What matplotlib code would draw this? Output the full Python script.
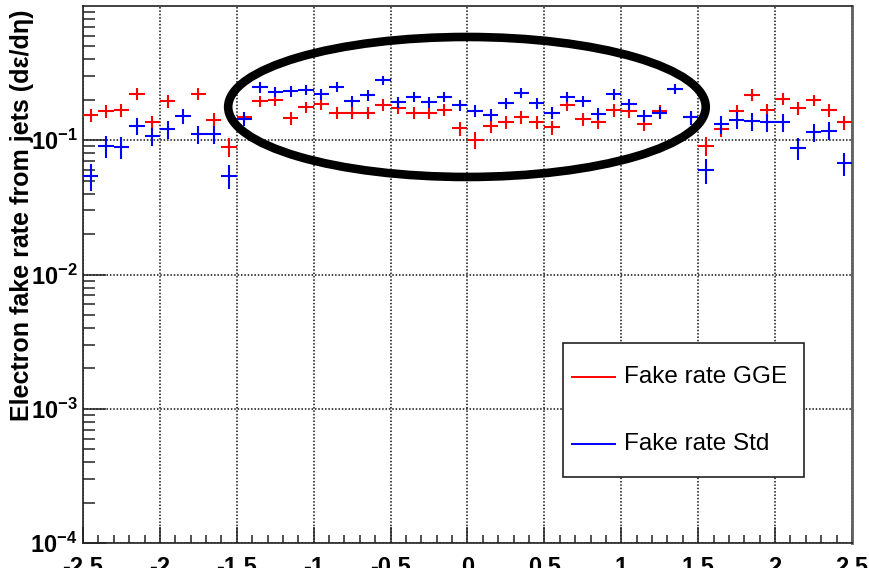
import matplotlib
matplotlib.use("Agg")
import matplotlib.pyplot as plt
import numpy as np
from matplotlib.lines import Line2D
from matplotlib.patches import Ellipse, Rectangle
from matplotlib.ticker import FixedLocator, LogLocator, NullFormatter

plt.rcParams["font.family"] = ["Liberation Sans", "DejaVu Sans"]
plt.rcParams["axes.unicode_minus"] = False

# 50 eta bins of width 0.1 between -2.5 and 2.5
ETA_CENTRES = np.round(np.arange(-2.45, 2.5, 0.1), 2)
ETA_HALF_WIDTH = 0.05

nan = float("nan")
FAKE_GGE = [0.155, 0.166, 0.168, 0.221, 0.136, 0.195, nan, 0.221, 0.142, 0.0896,
            0.148, 0.195, 0.199, 0.147, 0.176, 0.186, 0.161, 0.161, 0.161, 0.183,
            0.173, 0.161, 0.159, 0.168, 0.123, 0.1005, 0.128, 0.136, 0.148, 0.136,
            0.125, 0.183, 0.144, 0.136, 0.168, 0.166, 0.132, 0.164, nan, 0.148,
            0.091, 0.121, 0.164, 0.218, 0.168, 0.203, 0.174, 0.199, 0.168, 0.136]
FAKE_STD = [0.0545, 0.091, 0.0896, 0.128, 0.107, 0.121, 0.152, 0.111, 0.111, 0.0545,
            0.144, 0.248, 0.230, 0.231, 0.237, 0.221, 0.250, 0.195, 0.217, 0.281,
            0.192, 0.211, 0.192, 0.211, 0.182, 0.166, 0.155, 0.188, 0.225, 0.188,
            0.161, 0.211, 0.195, 0.157, 0.221, 0.186, 0.152, 0.161, 0.241, 0.148,
            0.060, 0.132, 0.142, 0.138, 0.136, 0.136, 0.0877, 0.1145, 0.118, 0.0673]

# relative statistical uncertainty per bin
REL_ERR_GGE = [0.11, 0.11, 0.11, 0.10, 0.12, 0.11, 0.11, 0.10, 0.12, 0.16,
               0.10, 0.10, 0.10, 0.11, 0.10, 0.10, 0.10, 0.10, 0.10, 0.10,
               0.10, 0.10, 0.10, 0.10, 0.12, 0.14, 0.11, 0.11, 0.11, 0.11,
               0.12, 0.10, 0.11, 0.11, 0.11, 0.11, 0.11, 0.11, 0.11, 0.11,
               0.16, 0.13, 0.11, 0.10, 0.11, 0.10, 0.11, 0.10, 0.11, 0.12]
REL_ERR_STD = [0.23, 0.19, 0.19, 0.15, 0.16, 0.15, 0.13, 0.16, 0.16, 0.21,
               0.12, 0.09, 0.09, 0.09, 0.09, 0.09, 0.09, 0.10, 0.09, 0.08,
               0.10, 0.09, 0.10, 0.09, 0.10, 0.10, 0.10, 0.09, 0.09, 0.09,
               0.10, 0.09, 0.10, 0.10, 0.09, 0.10, 0.10, 0.10, 0.09, 0.12,
               0.21, 0.15, 0.15, 0.15, 0.15, 0.15, 0.19, 0.15, 0.15, 0.19]

X_TICKS = [-2.5, -2, -1.5, -1, -0.5, 0, 0.5, 1, 1.5, 2, 2.5]
X_TICK_LABELS = ["-2.5", "-2", "-1.5", "-1", "-0.5", "0", "0.5", "1", "1.5", "2", "2.5"]
Y_TICKS = [1e-4, 1e-3, 1e-2, 1e-1]
Y_TICK_LABELS = [r"$\mathdefault{10^{-4}}$", r"$\mathdefault{10^{-3}}$",
                 r"$\mathdefault{10^{-2}}$", r"$\mathdefault{10^{-1}}$"]

fig = plt.figure(figsize=(8.7, 5.68), dpi=100)
ax = fig.add_axes([0.0954, 0.044, 0.8839, 0.9454])

series = [(FAKE_GGE, REL_ERR_GGE, "#ff0000", "Fake rate GGE"),
          (FAKE_STD, REL_ERR_STD, "#0000ff", "Fake rate Std")]
for i, (vals, rel, colour, label) in enumerate(series):
    vals = np.asarray(vals)
    err = vals * np.asarray(rel)
    ax.errorbar(ETA_CENTRES, vals, xerr=ETA_HALF_WIDTH, yerr=err, fmt="none",
                ecolor=colour, elinewidth=1.5, capsize=0, zorder=3 + i)

ax.set_xlim(-2.5, 2.5)
ax.set_yscale("log")
ax.set_ylim(1e-4, 1)

ax.xaxis.set_major_locator(FixedLocator(X_TICKS))
ax.set_xticklabels(X_TICK_LABELS, fontsize=17, fontweight="bold")
ax.xaxis.set_minor_locator(FixedLocator(np.round(np.arange(-2.4, 2.5, 0.1), 2)))
ax.yaxis.set_major_locator(FixedLocator(Y_TICKS))
ax.set_yticklabels(Y_TICK_LABELS, fontsize=17, fontweight="bold")
ax.yaxis.set_minor_locator(LogLocator(base=10, subs=range(2, 10), numticks=20))
ax.yaxis.set_minor_formatter(NullFormatter())

ax.tick_params(which="both", direction="in", top=False, right=False,
               width=1.1, color="#222222")
ax.tick_params(axis="x", which="major", length=11.5, pad=9)
ax.tick_params(axis="x", which="minor", length=5.8)
ax.tick_params(axis="y", which="major", length=16.6, pad=4)
ax.tick_params(axis="y", which="minor", length=8.3)

ax.grid(True, which="major", linestyle=(0, (1, 1.2)), color="#111111",
        linewidth=1.1)

for side in ("left", "bottom", "top"):
    ax.spines[side].set_linewidth(1.2)
    ax.spines[side].set_color("#222222")
ax.spines["right"].set_linewidth(2.0)
ax.spines["right"].set_color("#606060")

ax.set_ylabel("Electron fake rate from jets (d\u03b5/d\u03b7)", fontsize=18,
              fontweight="bold", loc="top")
ax.yaxis.set_label_coords(-0.064, 0.993)

# legend box, lower right
box = Rectangle((0.624, 0.123), 0.313, 0.250, transform=ax.transAxes,
                facecolor="white", edgecolor="#222222", linewidth=1.2, zorder=8)
ax.add_patch(box)
for (vals, rel, colour, label), ypos in zip(series, (0.310, 0.184)):
    ax.add_line(Line2D([0.636, 0.692], [ypos, ypos], transform=ax.transAxes,
                       color=colour, linewidth=1.4, zorder=9))
    ax.text(0.703, ypos, label, transform=ax.transAxes, fontsize=17.5,
            va="center", ha="left", zorder=9)

# highlight the central region
ax.add_patch(Ellipse((0.4993, 0.812), 0.621, 0.2607, transform=ax.transAxes,
                     fill=False, edgecolor="black", linewidth=6.2,
                     clip_on=False, zorder=10))

fig.savefig("out.png", dpi=100)
